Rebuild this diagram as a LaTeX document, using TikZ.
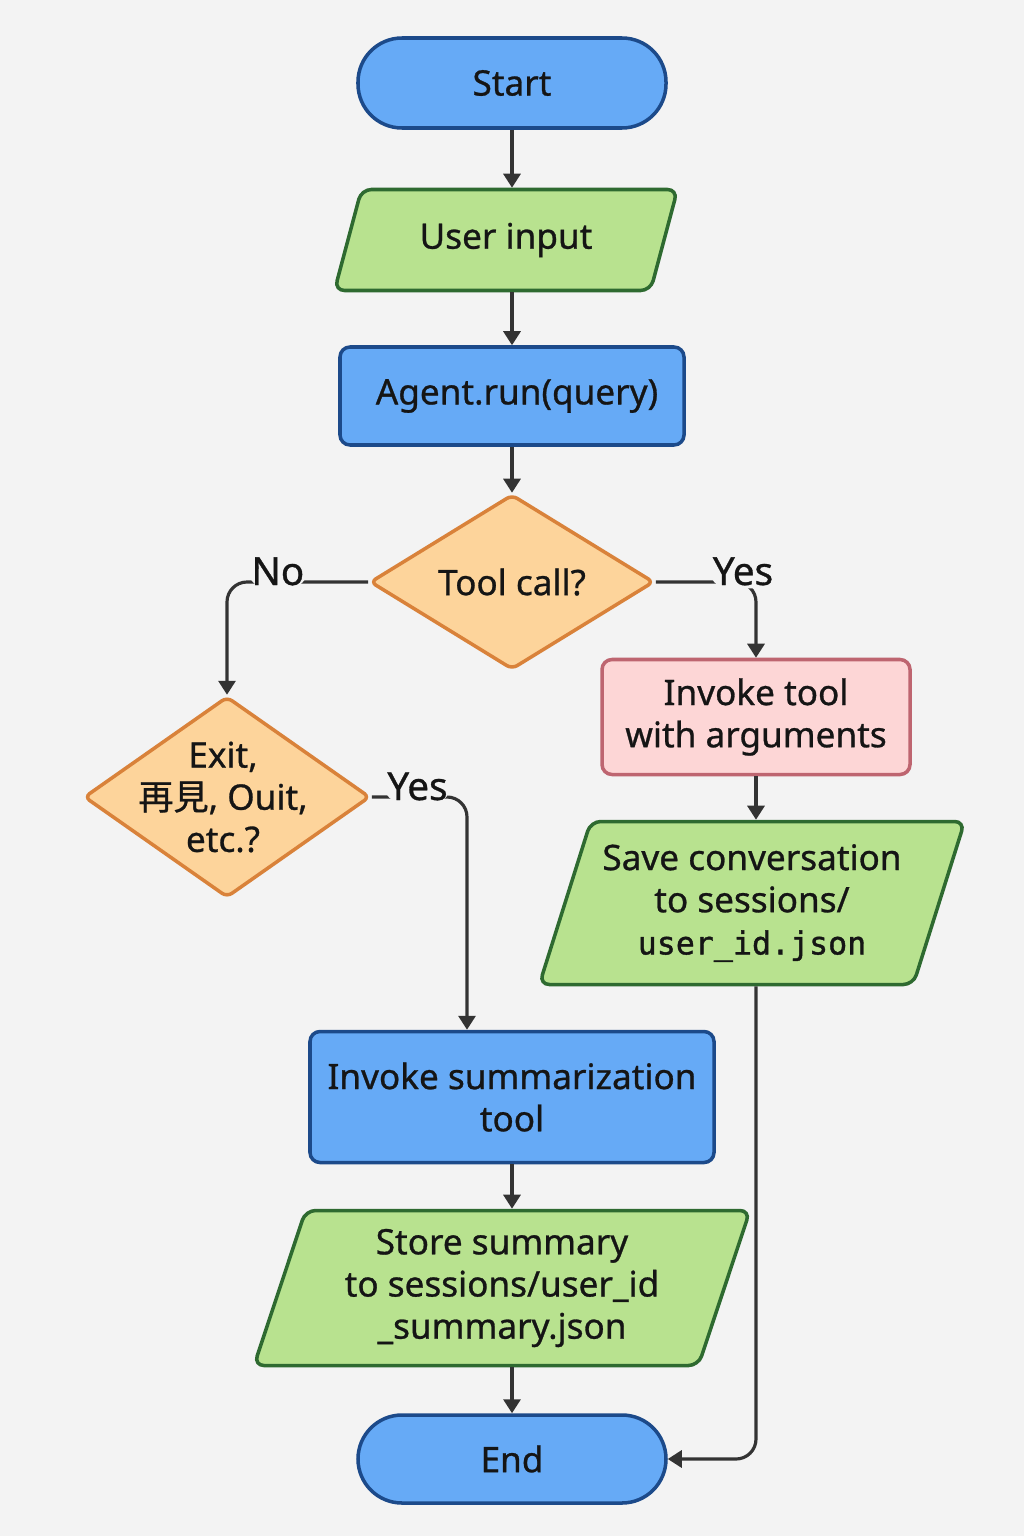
\documentclass[tikz,border=0pt]{standalone}
\usepackage{fontspec}
\setmainfont{Noto Sans}[FakeBold=0.8]
\newfontfamily\cjkfont{Noto Sans CJK TC}[FakeBold=0.8]
\newfontfamily\codefont{DejaVu Sans Mono}[FakeBold=1.2]
\usetikzlibrary{arrows.meta,shapes.geometric}

\definecolor{bgc}{HTML}{F3F3F3}
\definecolor{bluefill}{HTML}{66AAF6}
\definecolor{blueline}{HTML}{1C4A8A}
\definecolor{greenfill}{HTML}{B8E28F}
\definecolor{greenline}{HTML}{2E6A30}
\definecolor{orangefill}{HTML}{FDD49B}
\definecolor{orangeline}{HTML}{D9823A}
\definecolor{pinkfill}{HTML}{FDD6D6}
\definecolor{pinkline}{HTML}{BE6570}
\definecolor{linec}{HTML}{333333}
\definecolor{textc}{HTML}{151515}

\begin{document}
\begin{tikzpicture}[
  font=\fontsize{10}{12}\selectfont, text=textc,
  terminal/.style={rectangle, rounded corners=4.4mm, draw=blueline, fill=bluefill, line width=1pt, minimum width=3.08cm, minimum height=0.9cm},
  process/.style={rectangle, rounded corners=1mm, line width=1pt, align=center},
  iobox/.style={trapezium, trapezium left angle=70, trapezium right angle=110, trapezium stretches body, rounded corners=1mm, draw=greenline, fill=greenfill, line width=1pt, align=center},
  decision/.style={diamond, draw=orangeline, fill=orangefill, line width=1pt, rounded corners=0.6mm, align=center, inner sep=0pt},
  flow/.style={draw=linec, line width=0.9pt, rounded corners=2mm, -{Triangle[length=1.4mm, width=1.7mm]}},
  answer/.style={fill=bgc, anchor=base, inner xsep=0.4mm, inner ysep=0.3mm, font=\fontsize{11}{13}\selectfont}
]

  \fill [bgc] (0,0) rectangle (10.24,-15.36);
  \useasboundingbox (0,0) rectangle (10.24,-15.36);

  \node [terminal] (start) at (5.12,-0.83) {Start};
  \node [iobox, trapezium left angle=65, trapezium right angle=115, minimum width=3.43cm, minimum height=1.01cm] (input) at (5.06,-2.40) {User input};
  \node [process, draw=blueline, fill=bluefill, minimum width=3.44cm, minimum height=0.98cm] (agent) at (5.12,-3.96) {\hspace*{1mm}Agent.run(query)};
  \node [decision, minimum width=2.84cm, minimum height=1.72cm] (toolq) at (5.12,-5.82) {Tool call?};

  \node [process, draw=pinkline, fill=pinkfill, minimum width=3.08cm, minimum height=1.15cm] (invoke) at (7.56,-7.17) {Invoke tool\\with arguments};
  \node [iobox, minimum width=4.22cm, minimum height=1.63cm] (save) at (7.52,-9.03) {Save conversation\\to sessions/\\{\codefont\fontsize{9}{12}\selectfont user\_id.json}};

  \node [decision, minimum width=2.86cm, minimum height=2.01cm, label={[align=center, xshift=-0.4mm]center:{Exit,\\{\cjkfont 再見}, Ouit,\\etc.?}}] (exitq) at (2.27,-7.97) {};

  \node [process, draw=blueline, fill=bluefill, minimum width=4.04cm, minimum height=1.31cm] (summ) at (5.12,-10.97) {Invoke summarization\\tool};
  \node [iobox, minimum width=4.96cm, minimum height=1.55cm] (store) at (5.02,-12.88) {Store summary\\to sessions/user\_id\\\_summary.json};
  \node [terminal, minimum height=0.88cm] (end) at (5.12,-14.59) {End};

  % main line
  \draw [flow] (start) -- (start |- input.north);
  \draw [flow] (agent |- input.south) -- (agent);
  \draw [flow] (agent) -- (toolq);

  % branches of the tool call
  \draw [flow] (toolq.west) -| node[answer, pos=0.32, yshift=-0.3mm]{No} (exitq.north);
  \draw [flow] (toolq.east) -| node[answer, pos=0.5, xshift=-1.3mm, yshift=-0.3mm]{Yes} (invoke.north);
  \draw [flow] (invoke) -- (invoke |- save.north);
  \draw [flow] (invoke |- save.south) |- (end.east);

  % exit words
  \draw [flow] (exitq.east) -| node[answer, pos=0.24, yshift=-0.3mm]{Yes} ([xshift=-4.5mm]summ.north);
  \draw [flow] (summ) -- (summ |- store.north);
  \draw [flow] (summ |- store.south) -- (end);

\end{tikzpicture}
\end{document}
